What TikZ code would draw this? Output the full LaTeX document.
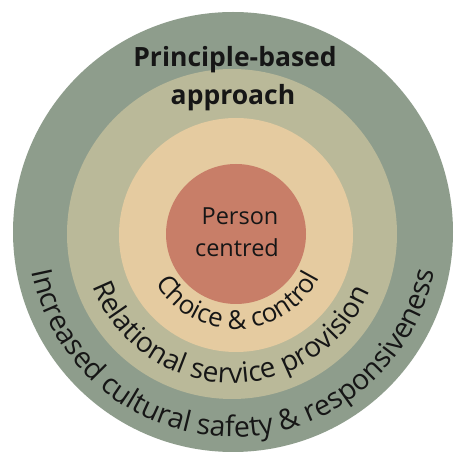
\documentclass[tikz,border=0pt]{standalone}
\usepackage{fontspec}
\setmainfont{Open Sans}
\usetikzlibrary{decorations.text}
\definecolor{outerc}{RGB}{142,157,140}
\definecolor{ringtwo}{RGB}{186,185,153}
\definecolor{ringthree}{RGB}{229,203,160}
\definecolor{innerc}{RGB}{200,126,104}
\definecolor{ink}{RGB}{22,22,22}
\tikzset{
  curvetext/.style={decorate, decoration={text along path, text align=center, text color=ink}},
  title/.style={font=\fontsize{26.5}{30}\selectfont\bfseries, text=ink, anchor=base, inner sep=0pt},
  centre/.style={font=\fontsize{23.5}{26}\selectfont, text=ink, anchor=base, inner sep=0pt}
}
\begin{document}
\begin{tikzpicture}[x=1pt,y=1pt]
\useasboundingbox (0,0) rectangle (456,455);
\fill[white] (0,0) rectangle (456,455);
\coordinate (c1) at (233,223);
\coordinate (c2) at (232,221);
\coordinate (c3) at (236,220);
\coordinate (c4) at (236,221);
\fill[outerc] (c1) circle[radius=220];
\fill[ringtwo] (c2) circle[radius=165];
\fill[ringthree] (c3) circle[radius=117];
\fill[innerc] (c4) circle[radius=70];
\node[title] (t1) at (235,388) {Principle-based};
\node[title] (t2) at (233,350) {approach};
\node[centre] (p1) at (240,230) {Person};
\node[centre] (p2) at (237,198) {centred};
\path[curvetext, decoration={text={|\fontsize{26}{30}\selectfont|Choice {\&} control}}]
  (c3) ++(152:94) arc[start angle=152, end angle=392, radius=94];
\path[curvetext, decoration={text={|\fontsize{28}{32}\selectfont|Relational service provision}}]
  (c2) ++(149:149) arc[start angle=149, end angle=389, radius=149];
\path[curvetext, decoration={text={|\fontsize{28.5}{32}\selectfont|Increased cultural safety {\&} responsiveness}}]
  (c1) ++(150:205) arc[start angle=150, end angle=390, radius=205];
\end{tikzpicture}
\end{document}
